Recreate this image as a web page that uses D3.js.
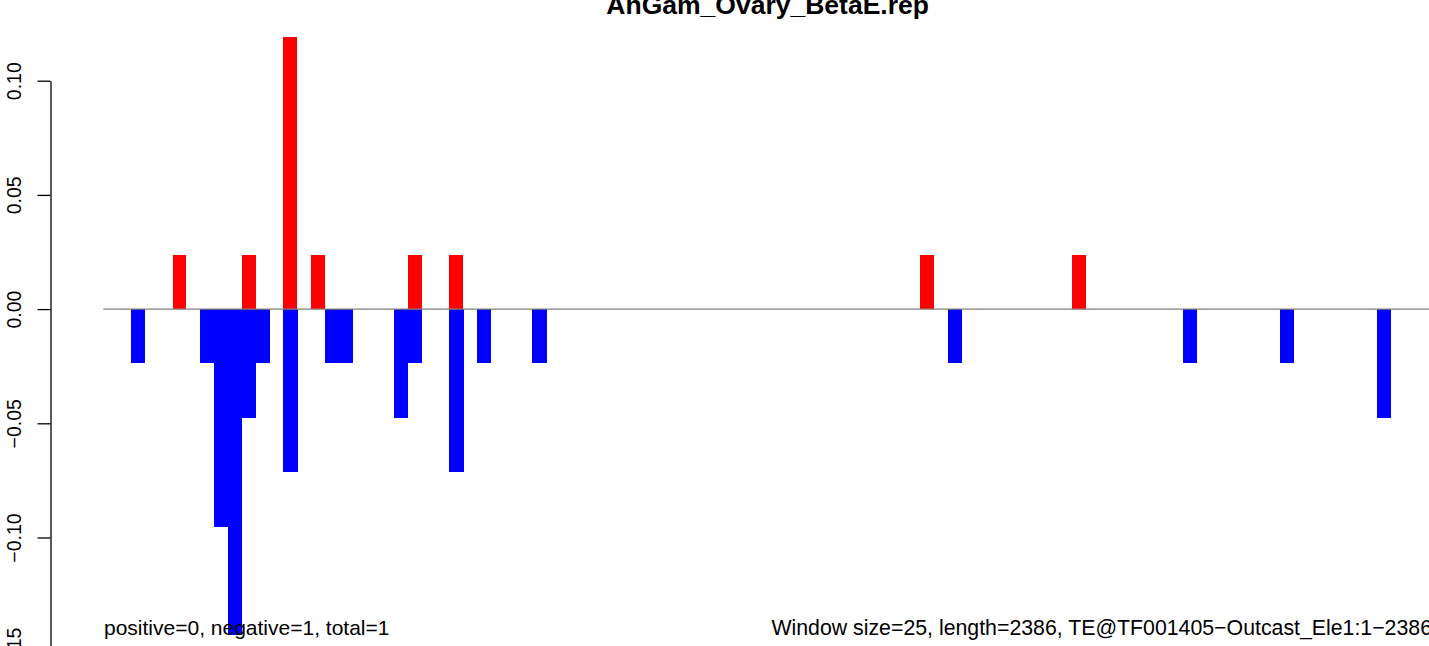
<!DOCTYPE html>
<html>
<head>
<meta charset="utf-8">
<script src="https://cdn.jsdelivr.net/npm/d3@7"></script>
<style>
  html, body { margin: 0; padding: 0; background: #fff; }
  svg { display: block; font-family: "Liberation Sans", Arial, Helvetica, sans-serif; }
</style>
</head>
<body>
<svg id="chart" width="1429" height="646"></svg>
<script>
// ---- data (window index -> score) ----
const posWindows = [5, 10, 13, 15, 22, 25, 59, 70];
const posValues  = [0.0238, 0.0238, 0.119, 0.0238, 0.0238, 0.0238, 0.0238, 0.0238];
const negWindows = [2, 7, 8, 9, 10, 11, 13, 16, 17, 21, 22, 25, 27, 31, 61, 78, 85, 92];
const negValues  = [-0.0238, -0.0238, -0.0952, -0.1429, -0.0476, -0.0238, -0.0714, -0.0238, -0.0238,
                    -0.0476, -0.0238, -0.0714, -0.0238, -0.0238, -0.0238, -0.0238, -0.0238, -0.0476];
const nWindows = 96;
const yTicks = [-0.15, -0.10, -0.05, 0.00, 0.05, 0.10];
const titleText = "AnGam_Ovary_BetaE.rep";
const leftNote = "positive=0, negative=1, total=1";
const rightNote = "Window size=25, length=2386, TE@TF001405\u2212Outcast_Ele1:1\u22122386";

const svg = d3.select("#chart");

const x = d3.scaleLinear().domain([0, nWindows]).range([103.3, 1432]);
const y = d3.scaleLinear().domain([-0.15, 0.10]).range([651.7, 80.7]);

const posData = posWindows.map((w, i) => ({ w, v: posValues[i] }));
const negData = negWindows.map((w, i) => ({ w, v: negValues[i] }));

// bars
svg.append("g").attr("shape-rendering", "crispEdges")
  .selectAll("rect").data(negData).join("rect")
  .attr("x", d => x(d.w))
  .attr("width", d => x(d.w + 1) - x(d.w) + 0.5)
  .attr("y", y(0))
  .attr("height", d => y(d.v) - y(0))
  .attr("fill", "#0000ff");

svg.append("g").attr("shape-rendering", "crispEdges")
  .selectAll("rect").data(posData).join("rect")
  .attr("x", d => x(d.w))
  .attr("width", d => x(d.w + 1) - x(d.w))
  .attr("y", d => y(d.v))
  .attr("height", d => y(0) - y(d.v))
  .attr("fill", "#ff0000");

// zero line
svg.append("line")
  .attr("x1", x(0)).attr("x2", x(nWindows))
  .attr("y1", y(0)).attr("y2", y(0))
  .attr("stroke", "#808080").attr("stroke-width", 1.3);

// y axis
const fmt = v => d3.format(".2f")(v).replace("-", "\u2212");
const axis = d3.axisLeft(y).tickValues(yTicks).tickFormat(fmt).tickSizeInner(13).tickSizeOuter(0).tickPadding(0);
const ag = svg.append("g").attr("transform", "translate(50.5,0)").call(axis);
ag.selectAll("path, line").attr("stroke", "#000").attr("stroke-width", 1.3);
ag.selectAll("text").remove();
ag.selectAll(".tick").append("text")
  .attr("transform", "translate(-29.5,0) rotate(-90)")
  .attr("text-anchor", "middle")
  .attr("fill", "#000")
  .style("font-size", "19.5px")
  .style("font-family", "\"Liberation Sans\", Arial, Helvetica, sans-serif")
  .text(d => fmt(d));

// title
svg.append("text")
  .attr("x", (x(0) + x(nWindows)) / 2).attr("y", 14)
  .attr("text-anchor", "middle")
  .style("font-size", "26.5px").style("font-weight", "bold")
  .attr("fill", "#000")
  .text(titleText);

// bottom notes
svg.append("text")
  .attr("x", 104).attr("y", 635)
  .style("font-size", "21px").attr("fill", "#000")
  .text(leftNote);
svg.append("text")
  .attr("x", 1432).attr("y", 635)
  .attr("text-anchor", "end")
  .style("font-size", "21.3px").attr("fill", "#000")
  .text(rightNote);
</script>
</body>
</html>
